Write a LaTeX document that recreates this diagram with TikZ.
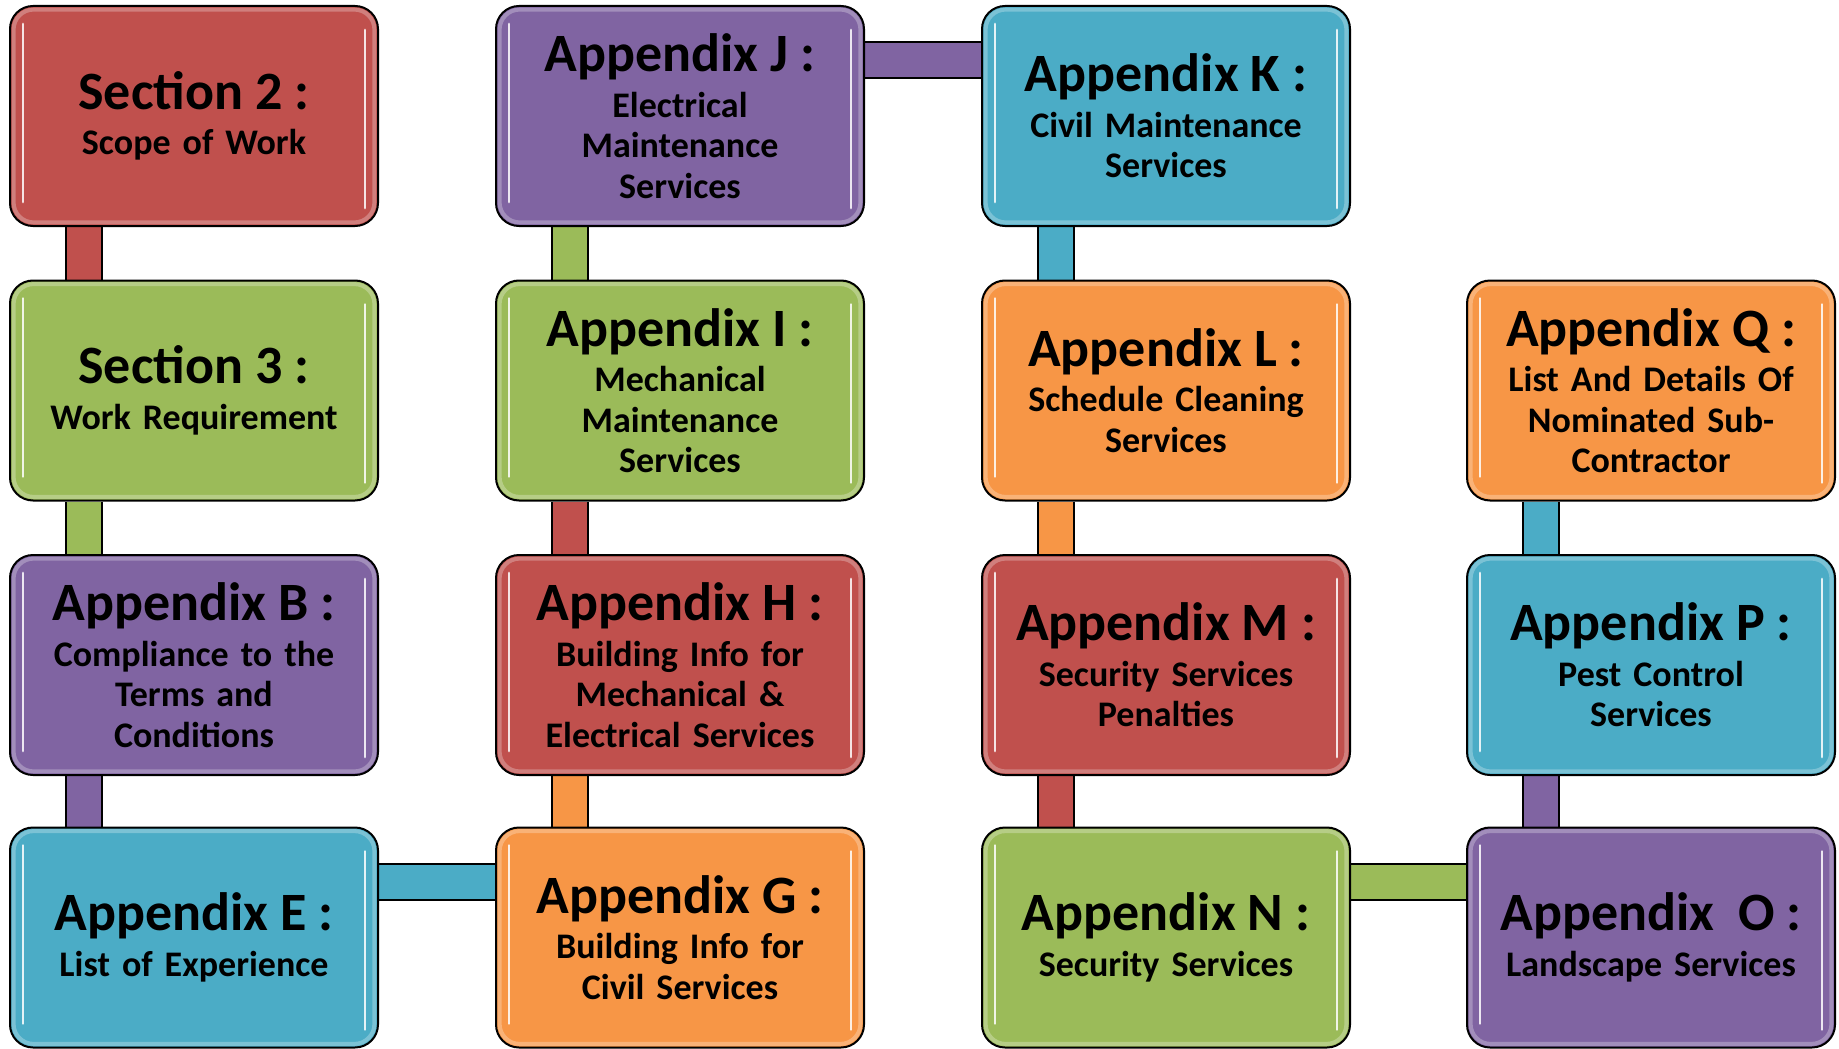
\documentclass[tikz,border=0pt]{standalone}
\usepackage{fontspec}
\setmainfont{Carlito}
\usetikzlibrary{backgrounds}
\definecolor{cred}{HTML}{C0504D}
\definecolor{cgreen}{HTML}{9BBB59}
\definecolor{cpurple}{HTML}{8064A2}
\definecolor{cblue}{HTML}{4BACC6}
\definecolor{corange}{HTML}{F79646}
\newcommand\ttl{\fontsize{27pt}{22.5pt}\selectfont}
\begin{document}
\begin{tikzpicture}[x=0.5pt,y=-0.5pt,
 box/.style={draw=black, line width=1pt, fill=#1, rounded corners=11.5pt,
   minimum width=184pt, minimum height=110pt, text width=178pt, align=center,
   inner sep=0pt, font=\bfseries\fontsize{18pt}{20.25pt}\selectfont,
   path picture={
     \draw[#1!55!white, opacity=0.6, line width=2pt, rounded corners=10pt]
       ([shift={(1.8pt,-1.8pt)}]path picture bounding box.north west) rectangle
       ([shift={(-1.8pt,1.8pt)}]path picture bounding box.south east);
     \draw[white, opacity=0.85, line width=1.4pt, line cap=round]
       ([xshift=6.5pt,yshift=-9pt]path picture bounding box.north west) --
       ([xshift=6.5pt,yshift=12pt]path picture bounding box.south west);
     \draw[white, opacity=0.85, line width=1.4pt, line cap=round]
       ([xshift=-6.5pt,yshift=-12pt]path picture bounding box.north east) --
       ([xshift=-6.5pt,yshift=9pt]path picture bounding box.south east);
   }},
 conn/.style={draw=black, line width=1pt, double=#1, double distance=17pt}
]
\useasboundingbox (0,0) rectangle (1839,1048);

\node[box=cred]    (s2) at (194,116)    {{\ttl Section 2 :}\\[2.5pt] Scope of Work};
\node[box=cgreen]  (s3) at (194,390.5)  {{\ttl Section 3 :}\\[2.5pt] Work Requirement};
\node[box=cpurple] (ab) at (194,665)    {{\ttl Appendix B :}\\[2.5pt] Compliance to the\\ Terms and\\ Conditions};
\node[box=cblue]   (ae) at (194,937.5)  {{\ttl Appendix E :}\\[2.5pt] List of Experience};

\node[box=cpurple] (aj) at (680,116)    {{\ttl Appendix J :}\\[2.5pt] Electrical\\ Maintenance\\ Services};
\node[box=cgreen]  (ai) at (680,390.5)  {{\ttl Appendix I :}\\[2.5pt] Mechanical\\ Maintenance\\ Services};
\node[box=cred]    (ah) at (680,665)    {{\ttl Appendix H :}\\[2.5pt] Building Info for\\ Mechanical \&\\ Electrical Services};
\node[box=corange] (ag) at (680,937.5)  {{\ttl Appendix G :}\\[2.5pt] Building Info for\\ Civil Services};

\node[box=cblue]   (ak) at (1166,116)   {{\ttl Appendix K :}\\[2.5pt] Civil Maintenance\\ Services};
\node[box=corange] (al) at (1166,390.5) {{\ttl Appendix L :}\\[2.5pt] Schedule Cleaning\\ Services};
\node[box=cred]    (am) at (1166,665)   {{\ttl Appendix M :}\\[2.5pt] Security Services\\ Penalties};
\node[box=cgreen]  (an) at (1166,937.5) {{\ttl Appendix N :}\\[2.5pt] Security Services};

\node[box=corange] (aq) at (1651,390.5) {{\ttl Appendix Q :}\\[2.5pt] List And Details Of\\ Nominated Sub-\\ Contractor};
\node[box=cblue]   (ap) at (1651,665)   {{\ttl Appendix P :}\\[2.5pt] Pest Control\\ Services};
\node[box=cpurple] (ao) at (1651,937.5) {{\ttl Appendix~ O :}\\[2.5pt] Landscape Services};

\begin{pgfonlayer}{background}
\draw[conn=cred]    ([xshift=37.5pt]s2.south west) -- ([xshift=37.5pt]s3.north west);
\draw[conn=cgreen]  ([xshift=37.5pt]s3.south west) -- ([xshift=37.5pt]ab.north west);
\draw[conn=cpurple] ([xshift=37.5pt]ab.south west) -- ([xshift=37.5pt]ae.north west);
\draw[conn=cblue]   ([yshift=-27.5pt]ae.north east) -- ([yshift=-27.5pt]ag.north west);
\draw[conn=corange] ([xshift=37.5pt]ag.north west) -- ([xshift=37.5pt]ah.south west);
\draw[conn=cred]    ([xshift=37.5pt]ah.north west) -- ([xshift=37.5pt]ai.south west);
\draw[conn=cgreen]  ([xshift=37.5pt]ai.north west) -- ([xshift=37.5pt]aj.south west);
\draw[conn=cpurple] ([yshift=-27.5pt]aj.north east) -- ([yshift=-27.5pt]ak.north west);
\draw[conn=cblue]   ([xshift=37.5pt]ak.south west) -- ([xshift=37.5pt]al.north west);
\draw[conn=corange] ([xshift=37.5pt]al.south west) -- ([xshift=37.5pt]am.north west);
\draw[conn=cred]    ([xshift=37.5pt]am.south west) -- ([xshift=37.5pt]an.north west);
\draw[conn=cgreen]  ([yshift=-27.5pt]an.north east) -- ([yshift=-27.5pt]ao.north west);
\draw[conn=cpurple] ([xshift=37.5pt]ao.north west) -- ([xshift=37.5pt]ap.south west);
\draw[conn=cblue]   ([xshift=37.5pt]ap.north west) -- ([xshift=37.5pt]aq.south west);
\end{pgfonlayer}
\end{tikzpicture}
\end{document}
